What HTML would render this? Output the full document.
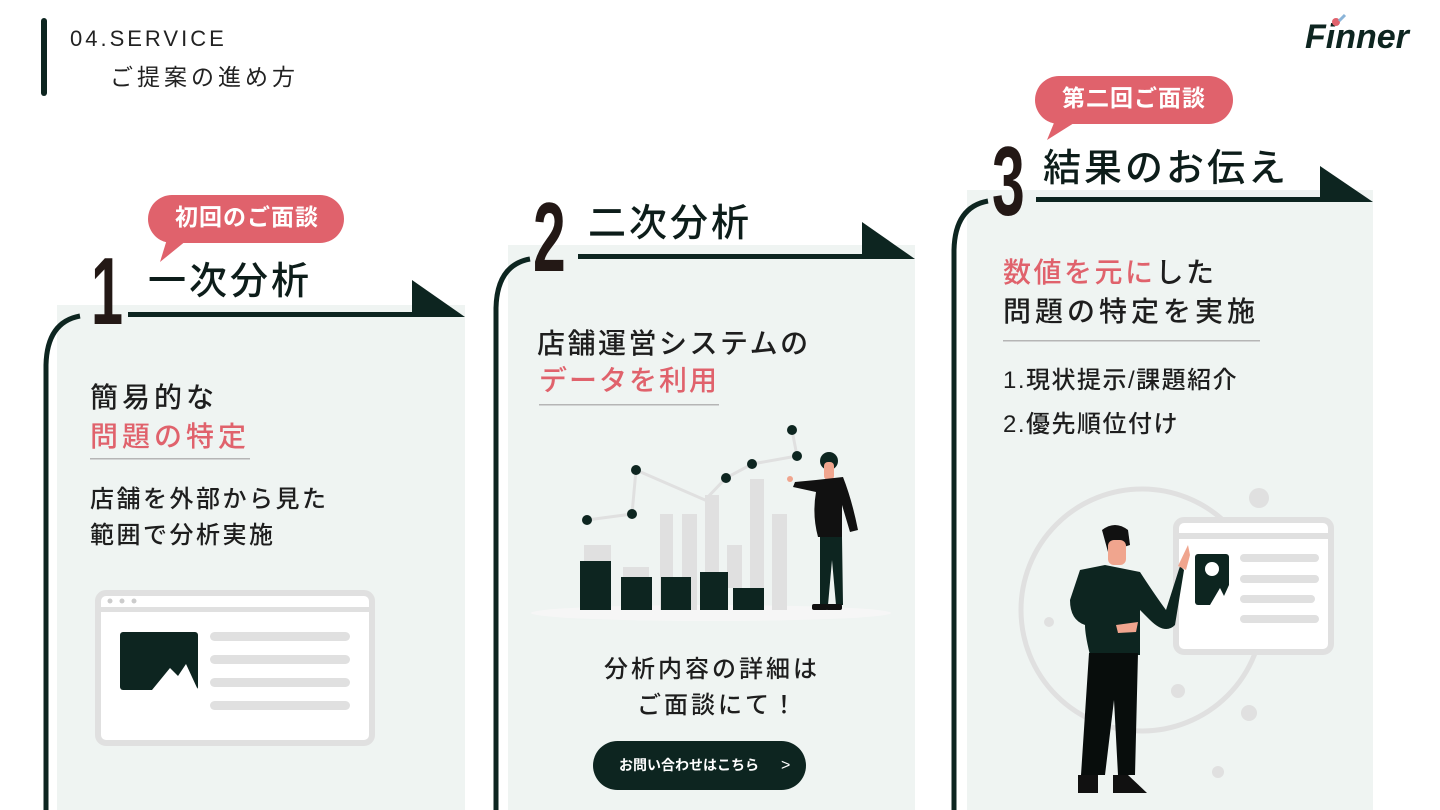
<!DOCTYPE html>
<html><head><meta charset="utf-8">
<style>
*{margin:0;padding:0;box-sizing:border-box}
body{width:1440px;height:810px;overflow:hidden;background:#fff;position:relative;font-family:"Liberation Sans","Noto Sans CJK JP",sans-serif;color:#1e1e1e}
.a{position:absolute;white-space:nowrap;line-height:1;font-weight:500}
.red{color:#e0626c}
.num{font-family:"Liberation Sans Narrow","Liberation Sans",sans-serif;color:#231815;font-weight:bold}
</style></head><body>
<svg class="a" style="left:0;top:0" width="1440" height="810">
<rect x="41" y="18" width="6" height="78" rx="3" fill="#0d2520"/>
<rect x="57" y="305" width="408" height="505" fill="#eff4f2"/>
<rect x="508" y="245" width="407" height="565" fill="#eff4f2"/>
<rect x="967" y="190" width="406" height="620" fill="#eff4f2"/>
<g fill="none" stroke="#0d2520" stroke-width="5">
<path d="M80 316 Q47 322 46 365 L46 810"/>
<path d="M530 259 Q497 265 496 308 L496 810"/>
<path d="M988 201 Q955 207 954 250 L954 810"/>
</g>
<g fill="#0d2520">
<rect x="128" y="312" width="300" height="5"/>
<polygon points="412,280 465,317 412,317"/>
<rect x="578" y="254" width="300" height="5"/>
<polygon points="862,222 915,259 862,259"/>
<rect x="1036" y="197" width="300" height="5"/>
<polygon points="1320,166 1373,202 1320,202"/>
</g>
<g fill="#e0626c">
<rect x="148" y="195" width="196" height="48" rx="24"/>
<polygon points="168,236 192,236 160,262"/>
<rect x="1035" y="76" width="198" height="48" rx="24"/>
<polygon points="1056,118 1082,118 1047,140"/>
</g>
<g fill="#b5b5b5">
<rect x="90" y="458" width="160" height="1.5"/>
<rect x="539" y="404" width="180" height="1.5"/>
<rect x="1003" y="340" width="257" height="1.5"/>
</g>
<rect x="98" y="593" width="274" height="150" rx="8" fill="#fff" stroke="#e0e0e0" stroke-width="6"/>
<rect x="98" y="607" width="274" height="5" fill="#e0e0e0"/>
<circle cx="110" cy="601" r="2.5" fill="#ccc"/><circle cx="122" cy="601" r="2.5" fill="#ccc"/><circle cx="134" cy="601" r="2.5" fill="#ccc"/>
<rect x="120" y="632" width="78" height="58" rx="3" fill="#0d2520"/>
<polygon points="152,690 170,668 178,676 186,664 198,690" fill="#fff"/>
<g fill="#e0e0e0">
<rect x="210" y="632" width="140" height="9" rx="4.5"/>
<rect x="210" y="655" width="140" height="9" rx="4.5"/>
<rect x="210" y="678" width="140" height="9" rx="4.5"/>
<rect x="210" y="701" width="140" height="9" rx="4.5"/>
</g>
<ellipse cx="711" cy="613" rx="180" ry="8" fill="#f6f6f6"/>
<g fill="#e0e0e0">
<rect x="584" y="545" width="27" height="16"/>
<rect x="623" y="567" width="26" height="10"/>
<rect x="660" y="514" width="13" height="96"/>
<rect x="682" y="514" width="15" height="96"/>
<rect x="705" y="495" width="14" height="77"/>
<rect x="727" y="545" width="15" height="43"/>
<rect x="750" y="479" width="14" height="109"/>
<rect x="772" y="514" width="15" height="96"/>
</g>
<g stroke="#e0e0e0" stroke-width="3" fill="none">
<polyline points="587,520 632,514 636,470 705,500 726,478 752,464 797,456 792,430"/>
</g>
<g fill="#0d2520">
<rect x="580" y="561" width="31" height="49"/>
<rect x="621" y="577" width="31" height="33"/>
<rect x="661" y="577" width="30" height="33"/>
<rect x="700" y="572" width="28" height="38"/>
<rect x="733" y="588" width="31" height="22"/>
<circle cx="587" cy="520" r="5"/><circle cx="632" cy="514" r="5"/><circle cx="636" cy="470" r="5"/><circle cx="726" cy="478" r="5"/><circle cx="752" cy="464" r="5"/><circle cx="797" cy="456" r="5"/><circle cx="792" cy="430" r="5"/>
</g>
<circle cx="829" cy="461" r="9" fill="#0d2520"/>
<rect x="824" y="462" width="10" height="18" rx="4" fill="#f0a58e"/>
<path d="M816 480 L843 477 Q852 500 858 530 L850 532 L842 505 L842 537 L818 537 Q812 515 816 492 L793 487 L795 482 Z" fill="#111"/>
<path d="M820 537 L842 537 L843 605 L836 605 L832 560 L828 605 L820 605 Z" fill="#0d2520"/>
<rect x="812" y="604" width="16" height="6" rx="2" fill="#111"/><rect x="826" y="604" width="16" height="6" rx="2" fill="#111"/>
<circle cx="790" cy="479" r="3" fill="#f0a58e"/>
<circle cx="1142" cy="610" r="121" fill="none" stroke="#e0e0e0" stroke-width="5"/>
<circle cx="1259" cy="498" r="10" fill="#e0e0e0"/>
<circle cx="1049" cy="622" r="5" fill="#e0e0e0"/>
<circle cx="1178" cy="691" r="7" fill="#e0e0e0"/>
<circle cx="1249" cy="713" r="8" fill="#e0e0e0"/>
<circle cx="1218" cy="772" r="6" fill="#e0e0e0"/>
<rect x="1176" y="520" width="155" height="132" rx="8" fill="#fff" stroke="#e0e0e0" stroke-width="6"/>
<rect x="1176" y="533" width="155" height="6" fill="#e0e0e0"/>
<g fill="#e0e0e0">
<rect x="1240" y="554" width="79" height="8" rx="4"/>
<rect x="1240" y="575" width="79" height="8" rx="4"/>
<rect x="1240" y="595" width="75" height="8" rx="4"/>
<rect x="1240" y="615" width="79" height="8" rx="4"/>
</g>
<rect x="1195" y="554" width="34" height="51" rx="3" fill="#0d2520"/>
<circle cx="1212" cy="569" r="7" fill="#fff"/>
<polygon points="1210,605 1220,588 1224,596 1229,585 1229,605" fill="#fff"/>
<path d="M1102 530 Q1115 520 1128 530 L1130 545 L1108 552 Z" fill="#111"/>
<rect x="1108" y="540" width="18" height="25" rx="6" fill="#f0a58e"/>
<path d="M1080 570 L1105 565 L1120 568 L1140 572 Q1155 595 1166 610 L1180 566 L1184 570 L1175 625 Q1165 635 1150 620 L1140 610 L1140 655 L1090 655 Q1085 635 1085 625 Q1070 620 1070 600 Z" fill="#0d2520"/>
<path d="M1178 566 L1188 545 L1190 555 L1186 570 Z" fill="#f0a58e"/>
<path d="M1116 625 L1138 622 L1136 632 L1118 633 Z" fill="#f0a58e"/>
<path d="M1089 653 L1138 653 L1135 775 L1118 775 L1114 700 L1105 775 L1081 775 Z" fill="#080d0c"/>
<path d="M1078 775 L1098 775 L1098 793 L1078 793 Z" fill="#111"/>
<path d="M1113 775 L1128 775 L1147 793 L1113 793 Z" fill="#111"/>
</svg>

<div class="a" style="left:70px;top:28px;font-size:22px;letter-spacing:3px;color:#222;font-weight:normal">04.SERVICE</div>
<div class="a" style="left:110px;top:66px;font-size:23px;letter-spacing:4px;color:#222;font-weight:normal">ご提案の進め方</div>
<div class="a" style="left:1305px;top:20px;font-size:34px;font-weight:900;font-style:italic;color:#0d2520">Finner</div>
<svg class="a" style="left:1330px;top:12px" width="20" height="16"><circle cx="6" cy="10" r="4" fill="#e0626c"/><path d="M9 9 L15 3" stroke="#8ab4d8" stroke-width="3"/></svg>

<div class="a" style="left:175px;top:206px;font-size:23px;font-weight:bold;color:#fff;letter-spacing:1px">初回のご面談</div>
<div class="a" style="left:1062px;top:87px;font-size:23px;font-weight:bold;color:#fff;letter-spacing:1px">第二回ご面談</div>

<div class="a num" style="left:91px;top:244px;font-size:96px;transform:scaleX(0.6);transform-origin:left">1</div>
<div class="a num" style="left:533px;top:188px;font-size:98px;transform:scaleX(0.6);transform-origin:left">2</div>
<div class="a num" style="left:992px;top:132px;font-size:98px;transform:scaleX(0.6);transform-origin:left">3</div>

<div class="a" style="left:148px;top:263px;font-size:38px;letter-spacing:3px;color:#0d1d1a">一次分析</div>
<div class="a" style="left:588px;top:205px;font-size:38px;letter-spacing:3px;color:#0d1d1a">二次分析</div>
<div class="a" style="left:1043px;top:150px;font-size:38px;letter-spacing:3px;color:#0d1d1a">結果のお伝え</div>

<div class="a" style="left:90px;top:384px;font-size:28px;letter-spacing:4px">簡易的な</div>
<div class="a red" style="left:90px;top:423px;font-size:28px;letter-spacing:4px">問題の特定</div>
<div class="a" style="left:90px;top:488px;font-size:24px;letter-spacing:2.5px">店舗を外部から見た</div>
<div class="a" style="left:90px;top:524px;font-size:24px;letter-spacing:2.5px">範囲で分析実施</div>

<div class="a" style="left:537px;top:330px;font-size:28px;letter-spacing:2.5px">店舗運営システムの</div>
<div class="a red" style="left:539px;top:367px;font-size:28px;letter-spacing:2px">データを利用</div>
<div class="a" style="left:604px;top:658px;font-size:24px;letter-spacing:3px">分析内容の詳細は</div>
<div class="a" style="left:637px;top:694px;font-size:24px;letter-spacing:3px">ご面談にて！</div>
<div class="a" style="left:593px;top:741px;width:213px;height:49px;border-radius:25px;background:#0d2520;color:#fff;font-size:14px;line-height:49px;padding-left:26px;font-weight:bold">お問い合わせはこちら<span style="position:absolute;left:188px;font-weight:normal;font-size:16px">&gt;</span></div>

<div class="a" style="left:1003px;top:259px;font-size:28px;letter-spacing:2.5px"><span class="red">数値を元に</span>した</div>
<div class="a" style="left:1003px;top:298px;font-size:28px;letter-spacing:4px">問題の特定を実施</div>
<div class="a" style="left:1003px;top:369px;font-size:24px;letter-spacing:1.5px">1.現状提示/課題紹介</div>
<div class="a" style="left:1003px;top:413px;font-size:24px;letter-spacing:1.5px">2.優先順位付け</div>
</body></html>
